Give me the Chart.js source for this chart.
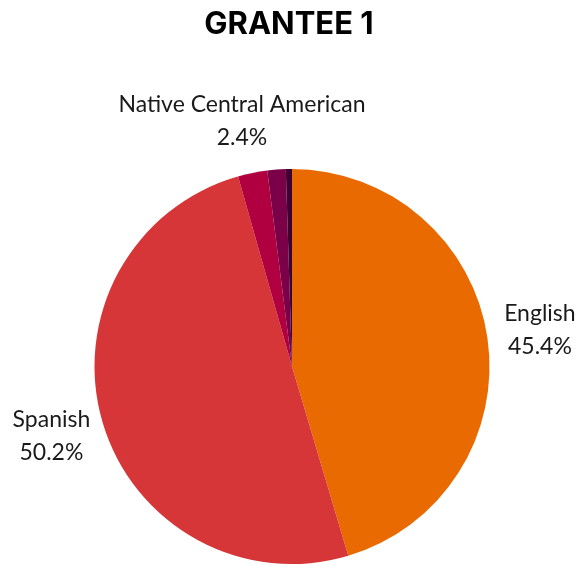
<!DOCTYPE html>
<html>
<head>
<meta charset="utf-8">
<script src="https://cdn.jsdelivr.net/npm/chart.js@4.4.0/dist/chart.umd.min.js"></script>
<style>
html,body{margin:0;padding:0;background:#fff;}
#wrap{position:relative;width:582px;height:565px;}
</style>
</head>
<body>
<div id="wrap"><canvas id="c" width="582" height="565"></canvas></div>
<script>
const chartTitle = "GRANTEE 1";
const categories = ["English", "Spanish", "Native Central American", "Other", "Unknown"];
const shares = [45.4, 50.2, 2.4, 1.5, 0.5];
const valueLabels = ["45.4%", "50.2%", "2.4%", "", ""];
const sliceColors = ["#E96A00", "#D63638", "#B0003F", "#7A0048", "#3D0030"];

const labelPlugin = {
  id: 'sliceLabels',
  afterDraw(chart) {
    const ctx = chart.ctx;
    ctx.save();
    ctx.fillStyle = '#000';
    ctx.textAlign = 'center';
    ctx.textBaseline = 'middle';
    ctx.font = 'bold 31px Inter, "Liberation Sans", sans-serif';
    ctx.fillText(chartTitle, 289, 25);
    const meta = chart.getDatasetMeta(0);
    ctx.font = '23px Lato, "Open Sans", sans-serif';
    ctx.fillStyle = '#1a1a1a';
    meta.data.forEach((arc, i) => {
      if (!valueLabels[i]) return;
      const p = arc.getProps(['x','y','startAngle','endAngle','outerRadius'], true);
      const mid = (p.startAngle + p.endAngle) / 2;
      const r = p.outerRadius + 53;
      const cx = p.x + Math.cos(mid) * r;
      const cy = p.y + Math.sin(mid) * r;
      ctx.fillText(categories[i], cx, cy - 16.5);
      ctx.fillText(valueLabels[i], cx, cy + 16.5);
    });
    ctx.restore();
  }
};

new Chart(document.getElementById('c'), {
  type: 'pie',
  data: {
    labels: categories,
    datasets: [{
      data: shares,
      backgroundColor: sliceColors,
      borderWidth: 0,
      hoverBorderWidth: 0,
      hoverOffset: 0
    }]
  },
  options: {
    responsive: false,
    animation: false,
    layout: { padding: { top: 169, bottom: 1, left: 94, right: 92 } },
    plugins: {
      legend: { display: false },
      tooltip: { enabled: false },
      title: { display: false }
    }
  },
  plugins: [labelPlugin]
});
</script>
</body>
</html>
